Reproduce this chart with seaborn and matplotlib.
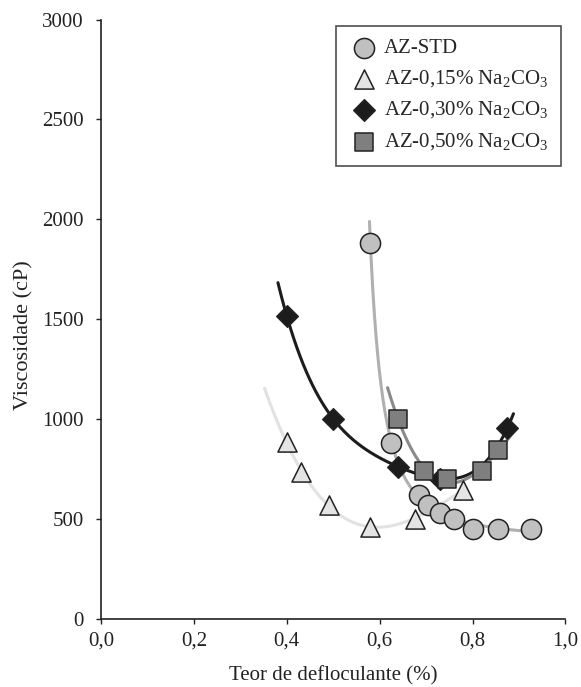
import numpy as np
import pandas as pd
import matplotlib
matplotlib.use("Agg")
import matplotlib.pyplot as plt
import seaborn as sns

# ---- data ----
std_x = [0.58, 0.625, 0.685, 0.705, 0.73, 0.76, 0.80, 0.855, 0.925]
std_y = [1880, 880, 620, 570, 530, 500, 450, 450, 450]
c15_x = [0.40, 0.43, 0.49, 0.58, 0.675, 0.78]
c15_y = [885, 735, 570, 460, 500, 645]
c30_x = [0.40, 0.50, 0.64, 0.73, 0.875]
c30_y = [1515, 1000, 760, 700, 955]
c50_x = [0.64, 0.695, 0.745, 0.82, 0.855]
c50_y = [1000, 740, 700, 740, 845]

labels = ["AZ-STD",
          r"AZ-0,15% Na$_\mathregular{2}$CO$_\mathregular{3}$",
          r"AZ-0,30% Na$_\mathregular{2}$CO$_\mathregular{3}$",
          r"AZ-0,50% Na$_\mathregular{2}$CO$_\mathregular{3}$"]
xticks = [0.0, 0.2, 0.4, 0.6, 0.8, 1.0]
xtick_labels = ["0,0", "0,2", "0,4", "0,6", "0,8", "1,0"]
yticks = [0, 500, 1000, 1500, 2000, 2500, 3000]

sns.set_style("ticks")
plt.rcParams["font.family"] = ["Liberation Serif", "DejaVu Serif"]
plt.rcParams["mathtext.fontset"] = "custom"
plt.rcParams["mathtext.rm"] = "Liberation Serif"


def fit_power(xs, ys, xx):
    """least squares fit y = a + b/(x-x0)^n with grid search on x0, n"""
    xs = np.asarray(xs, float); ys = np.asarray(ys, float)
    best = None
    for x0 in np.linspace(0.30, 0.575, 120):
        for n in np.linspace(0.3, 6, 120):
            f = 1.0 / (xs - x0) ** n
            A = np.column_stack([np.ones_like(f), f])
            coef, res, *_ = np.linalg.lstsq(A, ys, rcond=None)
            err = np.sum((A @ coef - ys) ** 2)
            if best is None or err < best[0]:
                best = (err, x0, n, coef)
    _, x0, n, coef = best
    return coef[0] + coef[1] / (xx - x0) ** n


fig = plt.figure(figsize=(5.81, 6.87), dpi=100)
ax = fig.add_axes([0.1738, 0.0997, 0.9733 - 0.1738, 0.9716 - 0.0997])

series = [
    (std_x, std_y, (0.578, 0.93), "o", "#c0c0c0", "#b0b0b0", 210, "power"),
    (c15_x, c15_y, (0.352, 0.78), "^", "#e4e4e4", "#e2e2e2", 190, 3),
    (c30_x, c30_y, (0.381, 0.888), "D", "#1c1c1c", "#1c1c1c", 120, 4),
    (c50_x, c50_y, (0.617, 0.893), "s", "#7f7f7f", "#8a8a8a", 160, 3),
]

# trend lines (fitted from data)
for (xs, ys, rng, m, fc, lc, s, kind) in series:
    xx = np.linspace(rng[0], rng[1], 300)
    if kind == "power":
        yy = fit_power(xs, ys, xx)
    else:
        c = np.polyfit(np.array(xs), np.array(ys, float), kind)
        yy = np.polyval(c, xx)
    sns.lineplot(x=xx, y=yy, ax=ax, color=lc, lw=2.2, zorder=2, legend=False)

for (xs, ys, rng, m, fc, lc, s, kind), lab in zip(series, labels):
    sns.scatterplot(x=xs, y=ys, ax=ax, marker=m, s=s, color=fc,
                    edgecolor="#222222", linewidth=1.1, zorder=3, label=lab)

ax.set_xlim(0, 1.0)
ax.set_ylim(0, 3000)
ax.set_xticks(xticks)
ax.set_xticklabels(xtick_labels)
ax.set_yticks(yticks)
ax.tick_params(labelsize=15, length=3.5, width=1, color="#222222", labelcolor="#222222")
ax.tick_params(axis="y", pad=9)
ax.tick_params(axis="x", pad=6)
ax.set_xlabel("Teor de defloculante (%)", fontsize=15, color="#222222", labelpad=11)
ax.set_ylabel("Viscosidade (cP)", fontsize=16, color="#222222", labelpad=12)
ax.yaxis.set_label_coords(-0.145, 0.473)
for sp in ["top", "right"]:
    ax.spines[sp].set_visible(False)
for sp in ["left", "bottom"]:
    ax.spines[sp].set_color("#222222")
    ax.spines[sp].set_linewidth(1.2)

leg = ax.legend(loc="upper right", bbox_to_anchor=(0.990, 0.989), borderaxespad=0,
                fontsize=15, frameon=True, fancybox=False, edgecolor="#222222",
                borderpad=0.6, labelspacing=0.5, handletextpad=0.2,
                handlelength=1.5)
leg.get_frame().set_linewidth(1.2)

fig.savefig("out.png", dpi=100)
